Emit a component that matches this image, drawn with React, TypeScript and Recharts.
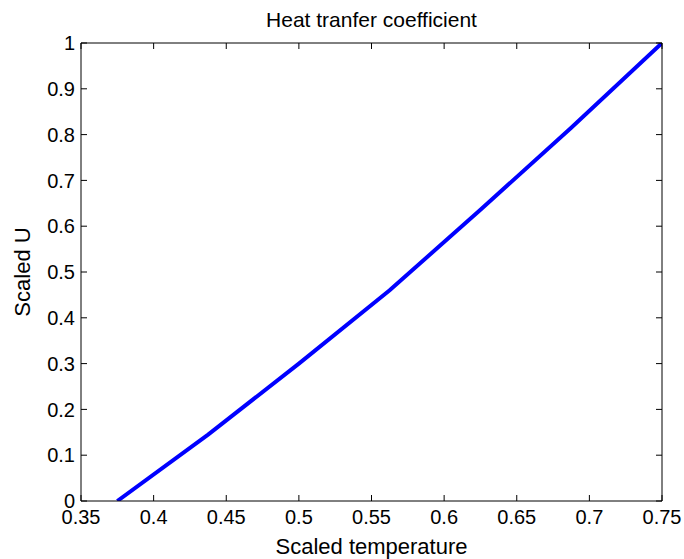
import { LineChart, Line, XAxis, YAxis, Label } from 'recharts'

const temperature = [0.375, 0.4375, 0.5, 0.5625, 0.625, 0.6875, 0.75]
const scaledU = [0, 0.145, 0.3, 0.46, 0.636, 0.815, 1]
const xTicks = [0.35, 0.4, 0.45, 0.5, 0.55, 0.6, 0.65, 0.7, 0.75]
const yTicks = [0, 0.1, 0.2, 0.3, 0.4, 0.5, 0.6, 0.7, 0.8, 0.9, 1]

const font = 'Arial, "Liberation Sans", Helvetica, sans-serif'
const fontSize = 20
const labelSize = 22
const titleSize = 21
const tickStyle = { fontSize, fill: '#000', fontFamily: font }
const blank = () => ''

export default function App() {
  const data = temperature.map((t, i) => ({ t, u: scaledU[i] }))

  return (
    <div style={{ position: 'absolute', left: 0, top: 0, width: 684, height: 559, background: '#fff' }}>
      <LineChart
        width={684}
        height={559}
        data={data}
        margin={{ top: 42, right: 21, bottom: 0, left: 21 }}
      >
        <XAxis
          dataKey="t"
          type="number"
          domain={[0.35, 0.75]}
          ticks={xTicks}
          allowDataOverflow
          height={58}
          tickSize={-6}
          tickMargin={15}
          tick={tickStyle}
          axisLine={{ stroke: '#000' }}
          tickLine={{ stroke: '#000' }}
        >
          <Label
            value="Scaled temperature"
            position="insideBottom"
            offset={5}
            fontSize={labelSize}
            fill="#000"
            fontFamily={font}
          />
        </XAxis>
        <XAxis
          xAxisId="top"
          dataKey="t"
          type="number"
          orientation="top"
          domain={[0.35, 0.75]}
          ticks={xTicks}
          allowDataOverflow
          height={1}
          tickSize={-6}
          tickFormatter={blank}
          axisLine={{ stroke: '#000' }}
          tickLine={{ stroke: '#000' }}
        >
          <Label
            value="Heat tranfer coefficient"
            position="top"
            offset={15}
            fontSize={titleSize}
            fill="#000"
            fontFamily={font}
          />
        </XAxis>
        <YAxis
          type="number"
          domain={[0, 1]}
          ticks={yTicks}
          allowDataOverflow
          width={60}
          tickSize={-6}
          tickMargin={12}
          tick={tickStyle}
          axisLine={{ stroke: '#000' }}
          tickLine={{ stroke: '#000' }}
        >
          <Label
            content={({ viewBox }: any) => {
              const cy = viewBox.y + viewBox.height / 2
              return (
                <text
                  x={22}
                  y={cy}
                  transform={`rotate(-90, 22, ${cy})`}
                  textAnchor="middle"
                  dominantBaseline="central"
                  fontSize={labelSize}
                  fill="#000"
                  fontFamily={font}
                >
                  Scaled U
                </text>
              )
            }}
          />
        </YAxis>
        <YAxis
          yAxisId="right"
          orientation="right"
          type="number"
          domain={[0, 1]}
          ticks={yTicks}
          allowDataOverflow
          width={1}
          tickSize={-6}
          tickFormatter={blank}
          axisLine={{ stroke: '#000' }}
          tickLine={{ stroke: '#000' }}
        />
        <Line
          type="linear"
          dataKey="u"
          stroke="#0000ff"
          strokeWidth={4}
          dot={false}
          isAnimationActive={false}
        />
      </LineChart>
    </div>
  )
}
